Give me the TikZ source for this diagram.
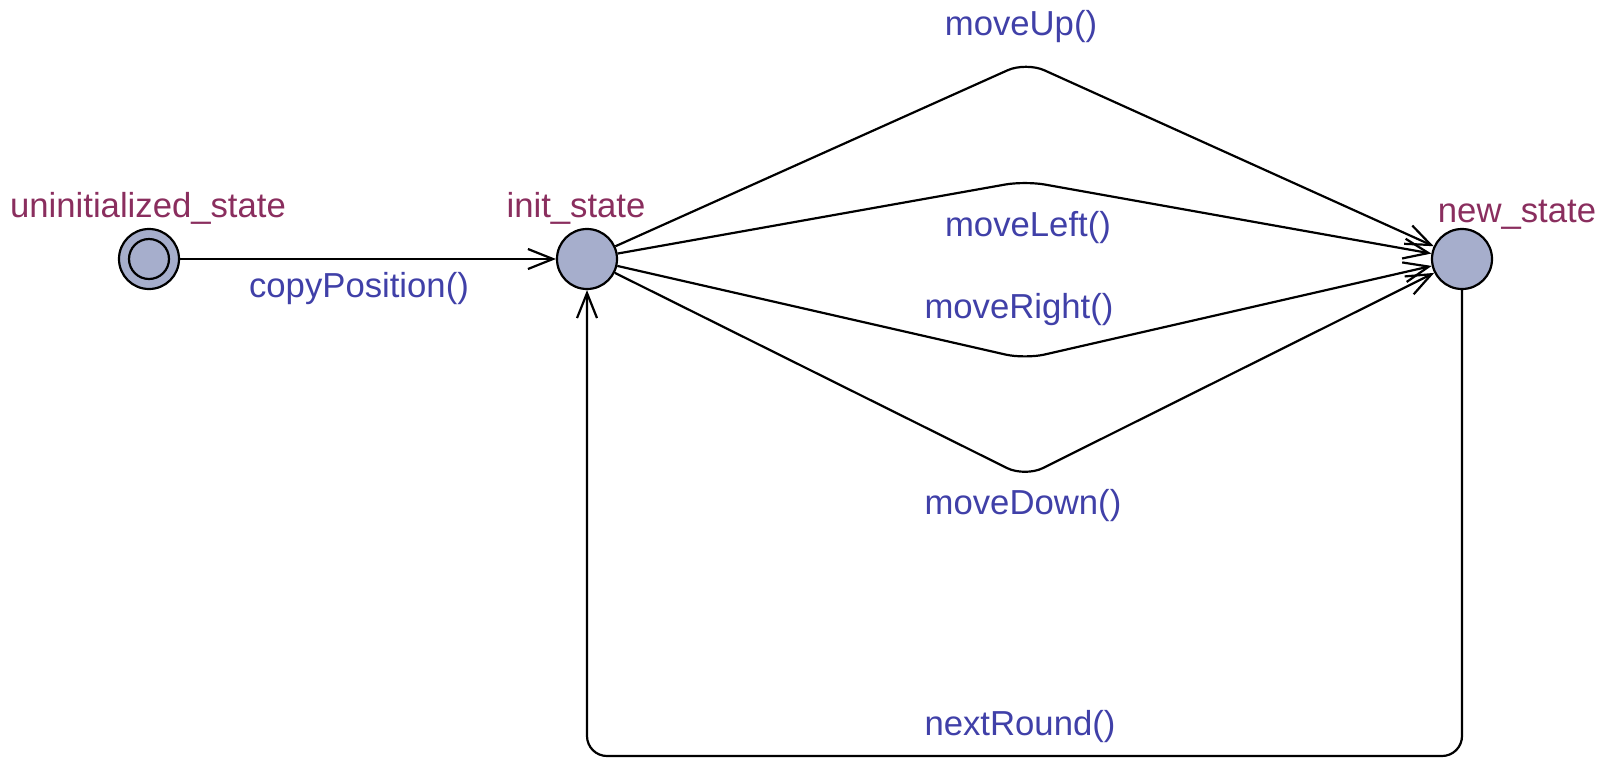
\documentclass[tikz,border=0pt]{standalone}
\usepackage{fontspec}
\setmainfont{Liberation Sans}
\usetikzlibrary{arrows.meta}
\definecolor{namecol}{RGB}{138,46,94}
\definecolor{labcol}{RGB}{64,64,168}
\definecolor{statefill}{RGB}{166,174,204}
\tikzset{
  x=1pt, y=-1pt,
  state/.style={circle, draw=black, line width=2.2pt, fill=statefill, minimum size=60pt, inner sep=0pt},
  inner/.style={circle, draw=black, line width=2.2pt, minimum size=40pt, inner sep=0pt},
  edge/.style={draw=black, line width=2.2pt, rounded corners=20pt, -{Straight Barb[length=25pt,width=20pt,line width=2.2pt]}},
  sname/.style={text=namecol, font=\fontsize{34.7}{38}\selectfont, anchor=base, inner sep=0pt},
  elab/.style={text=labcol, font=\fontsize{34.7}{38}\selectfont, anchor=base, inner sep=0pt}
}
\begin{document}
\begin{tikzpicture}
\useasboundingbox (0,0) rectangle (1608,769);
\node[state] (uninit) at (149,259) {};
\node[inner] (uninitin) at (149,259) {};
\node[state] (init) at (587,259) {};
\node[state] (new) at (1462,259) {};

\node[sname] (n1) at (148,217) {uninitialized\_state};
\node[sname] (n2) at (576,217) {init\_state};
\node[sname] (n3) at (1517,222) {new\_state};

\coordinate (up) at (1026,62);
\coordinate (left) at (1025,181);
\coordinate (right) at (1025,359);
\coordinate (down) at (1025,477);
\coordinate (bot) at (0,756);

\draw[edge] (uninit) -- (init);
\draw[edge] (init) -- (up) -- (new);
\draw[edge] (init) -- (left) -- (new);
\draw[edge] (init) -- (right) -- (new);
\draw[edge] (init) -- (down) -- (new);
\draw[edge] (new) -- (new |- bot) -- (init |- bot) -- (init);

\node[elab] (l1) at (359,297) {copyPosition()};
\node[elab] (l2) at (1021,35) {moveUp()};
\node[elab] (l3) at (1028,236) {moveLeft()};
\node[elab] (l4) at (1019,318) {moveRight()};
\node[elab] (l5) at (1023,514) {moveDown()};
\node[elab] (l6) at (1020,735) {nextRound()};
\end{tikzpicture}
\end{document}
